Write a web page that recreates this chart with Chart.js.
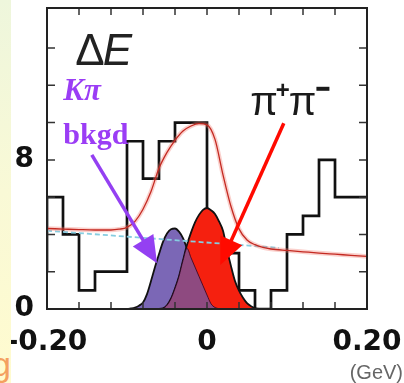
<!DOCTYPE html>
<html>
<head>
<meta charset="utf-8">
<script src="https://cdn.jsdelivr.net/npm/chart.js@4.4.1/dist/chart.umd.min.js"></script>
<style>
  html, body { margin: 0; padding: 0; background: #fff; }
  #wrap { position: relative; width: 404px; height: 383px; overflow: hidden; }
  #side { position: absolute; left: 0; top: 0; width: 11px; height: 383px; overflow: hidden;
          background: linear-gradient(#eef6dc, #f9f9d6 50%, #fffbcf); }
  #side span { position: absolute; left: -8px; top: 345px; font: 34px "Liberation Sans", sans-serif; color: #f4a060; }
</style>
</head>
<body>
<div id="wrap">
  <canvas id="c" width="404" height="383"></canvas>
  <div id="side"><span>g</span></div>
</div>
<script>
// histogram: lower bin edges (GeV) and event counts
const binLow = [-0.20, -0.18, -0.16, -0.14, -0.12, -0.10, -0.08, -0.06, -0.04, -0.02,
                 0.00,  0.02,  0.04,  0.06,  0.08,  0.10,  0.12,  0.14,  0.16,  0.18];
const counts = [2, 6, 4, 1, 2, 2, 9, 7, 9, 10, 10, 3, 3, 1, 0, 1, 4, 5, 8, 6];
const histEnd = 0.20;

// total fit curve
const fitE = [-0.20, -0.18, -0.16, -0.14, -0.12, -0.11, -0.10, -0.09, -0.08, -0.07, -0.06,
              -0.05, -0.04, -0.03, -0.02, -0.01, 0.00, 0.01, 0.02, 0.03, 0.04, 0.05, 0.06,
               0.07, 0.08, 0.10, 0.12, 0.14, 0.16, 0.18, 0.20];
const fitVal = [4.32, 4.29, 4.26, 4.24, 4.24, 4.28, 4.38, 4.70, 5.35, 6.30, 7.55,
                8.40, 9.05, 9.55, 9.82, 9.95, 9.88, 9.10, 7.20, 5.50, 4.30, 3.70, 3.45,
                3.30, 3.22, 3.14, 3.07, 3.00, 2.94, 2.88, 2.82];

// combinatoric background (dashed)
const bkgE = [-0.20, 0.09];
const bkgVal = [4.20, 3.28];

// signal shapes on a common grid
const shapeE = [-0.100, -0.095, -0.090, -0.085, -0.080, -0.075, -0.070, -0.065, -0.060, -0.055,
                -0.050, -0.045, -0.040, -0.035, -0.030, -0.025, -0.020, -0.015, -0.010, -0.005,
                 0.000,  0.005,  0.010,  0.015,  0.020,  0.025,  0.030,  0.035,  0.040,  0.045,
                 0.050,  0.055,  0.060,  0.065,  0.070];
const kpiVal = [0.00, 0.03, 0.08, 0.18, 0.35, 0.80, 1.50, 2.25, 2.95, 3.60,
                4.05, 4.28, 4.32, 4.15, 3.80, 3.25, 2.75, 2.25, 1.75, 1.25,
                0.75, 0.28, 0.08, 0.02, 0.00, 0.00, 0.00, 0.00, 0.00, 0.00,
                0.00, 0.00, 0.00, 0.00, 0.00];
const pipiVal = [0.00, 0.00, 0.00, 0.00, 0.00, 0.00, 0.00, 0.00, 0.00, 0.03,
                 0.20, 0.55, 1.10, 1.75, 2.60, 3.45, 4.10, 4.65, 5.05, 5.32,
                 5.42, 5.30, 5.10, 4.70, 4.20, 3.20, 2.30, 1.50, 0.98, 0.60,
                 0.31, 0.15, 0.05, 0.01, 0.00];

// axis ticks
const xTickVals = [-0.20, 0.00, 0.20];
const xTickText = ['-0.20', '0', '0.20'];
const xMinor = [-0.16, -0.12, -0.08, -0.04, 0.00, 0.04, 0.08, 0.12, 0.16];
const yTickVals = [0, 8];
const yTickText = ['0', '8'];
const yMinor = [2, 4, 6, 8, 10, 12, 14];

const toXY = (xs, ys) => xs.map((x, i) => ({ x: x, y: ys[i] }));

const histPts = toXY(binLow, counts);
histPts.push({ x: histEnd, y: counts[counts.length - 1] });

const overlapVal = kpiVal.map((v, i) => Math.min(v, pipiVal[i]));

// annotations (data coordinates)
const arrows = [
  { from: [-0.144, 8.27], to: [-0.0625, 2.45], color: '#9440f2' },
  { from: [0.096, 9.97], to: [0.0166, 2.36], color: '#ff0a00' }
];

function drawArrow(ctx, x1, y1, x2, y2, color) {
  const len = Math.hypot(x2 - x1, y2 - y1);
  const ux = (x2 - x1) / len, uy = (y2 - y1) / len;
  const hl = 27, hw = 12;
  const bx = x2 - ux * hl, by = y2 - uy * hl;
  ctx.save();
  ctx.strokeStyle = color;
  ctx.fillStyle = color;
  ctx.lineWidth = 3.5;
  ctx.beginPath();
  ctx.moveTo(x1, y1);
  ctx.lineTo(bx + ux * 2, by + uy * 2);
  ctx.stroke();
  ctx.beginPath();
  ctx.moveTo(x2, y2);
  ctx.lineTo(bx - uy * hw, by + ux * hw);
  ctx.lineTo(bx + uy * hw, by - ux * hw);
  ctx.closePath();
  ctx.fill();
  ctx.restore();
}

const decorations = {
  id: 'decorations',
  afterDraw(chart) {
    const { ctx, chartArea: a, scales: { x, y } } = chart;
    ctx.save();
    // inward tick marks
    ctx.strokeStyle = '#333';
    ctx.lineWidth = 1.5;
    ctx.beginPath();
    xMinor.forEach(v => {
      const px = x.getPixelForValue(v);
      ctx.moveTo(px, a.bottom); ctx.lineTo(px, a.bottom - 7);
      ctx.moveTo(px, a.top); ctx.lineTo(px, a.top + 7);
    });
    yMinor.forEach(v => {
      const py = y.getPixelForValue(v);
      ctx.moveTo(a.left, py); ctx.lineTo(a.left + 8, py);
      ctx.moveTo(a.right, py); ctx.lineTo(a.right - 8, py);
    });
    ctx.stroke();
    // frame
    ctx.strokeStyle = '#222';
    ctx.lineWidth = 2;
    ctx.strokeRect(a.left, a.top, a.right - a.left, a.bottom - a.top);

    // arrows
    arrows.forEach(ar => drawArrow(ctx,
      x.getPixelForValue(ar.from[0]), y.getPixelForValue(ar.from[1]),
      x.getPixelForValue(ar.to[0]), y.getPixelForValue(ar.to[1]), ar.color));

    ctx.textBaseline = 'alphabetic';
    ctx.textAlign = 'left';

    // ΔE
    let px = x.getPixelForValue(-0.1646), py = y.getPixelForValue(13.1);
    ctx.fillStyle = '#222';
    ctx.font = '44px "Liberation Sans", sans-serif';
    ctx.fillText('Δ', px, py);
    px += ctx.measureText('Δ').width - 2;
    ctx.font = 'italic 44px "Liberation Sans", sans-serif';
    ctx.fillText('E', px, py);

    // Kπ / bkgd
    ctx.fillStyle = '#9b3df5';
    ctx.font = 'italic bold 31px "Liberation Serif", serif';
    ctx.fillText('Kπ', x.getPixelForValue(-0.1796), y.getPixelForValue(11.22));
    ctx.font = 'bold 30px "Liberation Serif", serif';
    ctx.fillText('bkgd', x.getPixelForValue(-0.1796), y.getPixelForValue(8.86));

    // π+π−
    px = x.getPixelForValue(0.054); py = y.getPixelForValue(10.42);
    ctx.fillStyle = '#1a1a1a';
    ctx.font = '40px "Liberation Sans", sans-serif';
    ctx.fillText('π', px, py);
    px += ctx.measureText('π').width - 2;
    ctx.font = 'bold 24px "Liberation Sans", sans-serif';
    ctx.fillText('+', px, py - 17);
    px += ctx.measureText('+').width - 1;
    ctx.font = '40px "Liberation Sans", sans-serif';
    ctx.fillText('π', px, py);
    px += ctx.measureText('π').width;
    ctx.fillRect(px, py - 28, 13, 4);

    // unit
    ctx.fillStyle = '#666';
    ctx.font = '20px "Liberation Sans", sans-serif';
    ctx.textAlign = 'right';
    ctx.fillText('(GeV)', chart.width - 1, 379);
    ctx.restore();
  }
};

const tickFont = { family: 'DejaVu Sans', weight: 'bold', size: 28 };

new Chart(document.getElementById('c'), {
  type: 'line',
  data: {
    datasets: [
      { // fit curve
        data: toXY(fitE, fitVal), order: 1,
        borderColor: '#c42a22', borderWidth: 1.3,
        pointRadius: 0, cubicInterpolationMode: 'monotone', fill: false
      },
      { // soft glow under the fit curve
        data: toXY(fitE, fitVal), order: 2,
        borderColor: 'rgba(240,120,110,0.35)', borderWidth: 4.5,
        pointRadius: 0, cubicInterpolationMode: 'monotone', fill: false
      },
      { // background
        data: toXY(bkgE, bkgVal), order: 3,
        borderColor: '#86cde0', borderWidth: 1.8, borderDash: [5, 3],
        pointRadius: 0, fill: false
      },
      { // overlap of the two peaks
        data: toXY(shapeE, overlapVal), order: 4,
        borderColor: 'rgba(40,0,30,0.75)', borderWidth: 1,
        backgroundColor: '#8e4a80',
        pointRadius: 0, cubicInterpolationMode: 'monotone', fill: 'origin'
      },
      { // pi+ pi- signal
        data: toXY(shapeE, pipiVal), order: 5,
        borderColor: '#111', borderWidth: 1.8,
        backgroundColor: '#f5200f',
        pointRadius: 0, cubicInterpolationMode: 'monotone', fill: 'origin'
      },
      { // K pi
        data: toXY(shapeE, kpiVal), order: 6,
        borderColor: '#111', borderWidth: 1.8,
        backgroundColor: '#7b67b6',
        pointRadius: 0, cubicInterpolationMode: 'monotone', fill: 'origin'
      },
      { // data histogram
        data: histPts, order: 7,
        stepped: 'after',
        borderColor: '#111', borderWidth: 2.7,
        pointRadius: 0, fill: false
      }
    ]
  },
  options: {
    responsive: false,
    animation: false,
    devicePixelRatio: 1,
    layout: { padding: { left: 0, right: 37, top: 8, bottom: 0 } },
    plugins: { legend: { display: false }, tooltip: { enabled: false } },
    scales: {
      x: {
        type: 'linear', min: -0.2, max: 0.2,
        grid: { display: false, drawTicks: false },
        border: { display: false },
        afterBuildTicks: s => { s.ticks = xTickVals.map(v => ({ value: v })); },
        afterFit: s => {
          s.height = 74;
          s.paddingLeft = 0; s.paddingRight = 0;
        },
        ticks: {
          autoSkip: false, maxRotation: 0, padding: 17,
          color: '#111', font: tickFont,
          callback: (v, i) => xTickText[i]
        }
      },
      y: {
        type: 'linear', min: 0, max: 16.15,
        grid: { display: false, drawTicks: false },
        border: { display: false },
        afterBuildTicks: s => { s.ticks = yTickVals.map(v => ({ value: v })); },
        afterFit: s => {
          s.width = 47;
          s.paddingTop = 0; s.paddingBottom = 0;
        },
        ticks: {
          padding: 13,
          color: '#111', font: tickFont,
          callback: (v, i) => yTickText[i]
        }
      }
    }
  },
  plugins: [decorations]
});
</script>
</body>
</html>
